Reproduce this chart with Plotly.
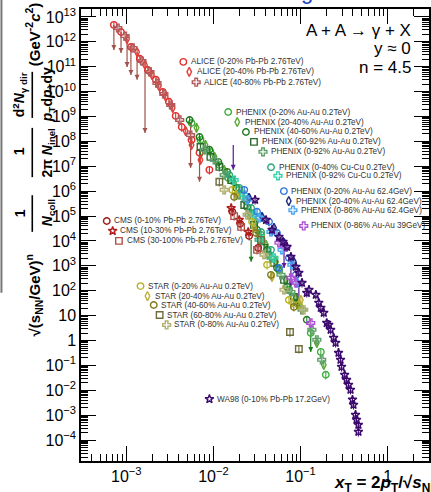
import plotly.graph_objects as go

# ---------------- data (x_T, scaled yield) ----------------
alice_020_x = [7.2e-4, 8.7e-4, 1.13e-3, 1.43e-3, 1.77e-3, 2.19e-3, 2.63e-3, 3.08e-3, 3.69e-3, 4.33e-3, 5.61e-3, 6.93e-3, 9.0e-3]
alice_020_y = [4.8e12, 2.5e12, 6.2e11, 2.1e11, 7.4e10, 3.0e10, 9.7e9, 3.9e9, 1.06e9, 3.8e8, 1.15e8, 3.5e7, 7.2e6]
alice_2040_x = [1.02e-3, 1.33e-3, 1.64e-3, 1.97e-3, 2.37e-3, 2.84e-3, 3.41e-3, 4.80e-3, 5.61e-3, 7.11e-3]
alice_2040_y = [1.3e12, 3.9e11, 1.18e11, 4.7e10, 1.7e10, 6.1e9, 2.2e9, 2.6e8, 7.2e7, 1.8e7]
alice_4080_x = [8.0e-4, 9.7e-4, 1.19e-3, 1.51e-3, 1.87e-3, 2.25e-3, 2.70e-3, 3.24e-3, 4.10e-3, 5.47e-3]
alice_4080_y = [3.6e12, 1.7e12, 5.7e11, 1.7e11, 6.2e10, 2.2e10, 8.1e9, 2.9e9, 7.3e8, 1.8e8]
alice_ul_x = [7.2e-4, 8.7e-4, 1.02e-3, 1.13e-3, 1.33e-3, 1.64e-3, 5.47e-3, 6.93e-3]
alice_ul_top = [4.8e12, 2.5e12, 1.3e12, 6.2e11, 3.9e11, 1.7e11, 5.5e8, 3.5e7]
alice_ul_low = [4.7e11, 3.6e11, 9.8e10, 4.7e10, 3.0e10, 2.2e8, 8.6e6, 2.4e6]

phx_020_x = [5.61e-3, 7.11e-3, 9.24e-3, 1.17e-2, 1.48e-2, 1.98e-2, 2.71e-2, 3.52e-2, 4.35e-2, 5.66e-2, 7.36e-2, 9.57e-2, 0.131, 0.171, 0.195]
phx_020_y = [5.5e8, 1.15e8, 3.8e7, 1.14e7, 3.4e6, 1.13e6, 1.35e5, 1.76e4, 2.8e3, 692, 109, 27, 2.0, 0.35, 0.042]
phx_2040_x = [6.4e-3, 8.1e-3, 1.03e-2, 1.33e-2, 1.73e-2, 2.26e-2, 3.09e-2, 4.02e-2, 5.24e-2, 6.81e-2, 8.85e-2, 0.154, 0.185]
phx_2040_y = [3.5e8, 7.2e7, 2.4e7, 7.2e6, 2.2e6, 4.5e5, 5.9e4, 7.0e3, 1.45e3, 274, 52, 0.81, 0.106]
phx_4060_x = [5.33e-3, 6.93e-3, 9.0e-3, 1.14e-2, 1.44e-2, 1.83e-2, 2.44e-2, 3.17e-2, 4.13e-2, 5.37e-2, 7.0e-2, 9.08e-2, 0.118]
phx_4060_y = [7.3e8, 1.5e8, 4.6e7, 1.5e7, 6.0e6, 1.36e6, 2.3e5, 2.8e4, 4.4e3, 832, 144, 33, 6.8]
phx_6092_x = [7.11e-3, 9.24e-3, 1.17e-2, 1.60e-2, 2.26e-2, 2.93e-2, 3.81e-2, 4.96e-2, 6.47e-2, 8.39e-2]
phx_6092_y = [6.0e7, 2.4e7, 9.5e6, 2.8e6, 2.8e5, 4.5e4, 5.3e3, 1.32e3, 274, 57]
phx_092_x = [7.89e-3, 1.03e-2, 1.33e-2, 1.98e-2, 2.57e-2, 3.34e-2, 4.58e-2, 5.97e-2, 7.76e-2, 0.104, 0.135, 0.154, 0.175]
phx_092_y = [4.6e7, 1.8e7, 4.5e6, 7.1e5, 1.12e5, 1.11e4, 2.1e3, 435, 90, 17.1, 2.7, 1.07, 0.168]
phx_ul_x = [0.131, 2.71e-2, 7.11e-3]
phx_ul_top = [2.0, 1.11e4, 1.15e8]
phx_ul_low = [0.35, 1.45e3, 1.8e7]

cucu_040_x = [1.52e-2, 1.98e-2, 2.71e-2, 3.52e-2, 4.58e-2]
cucu_040_y = [4.5e6, 1.36e6, 2.1e5, 2.3e4, 4.4e3]
cucu_092_x = [1.73e-2, 2.26e-2, 2.93e-2, 3.52e-2, 4.96e-2]
cucu_092_y = [2.8e6, 7.1e5, 1.12e5, 1.11e4, 2.1e3]

au62_020_x = [2.26e-2, 3.17e-2, 4.35e-2, 5.37e-2, 7.36e-2, 8.85e-2, 5.66e-2]
au62_020_y = [1.13e6, 1.5e5, 5.9e4, 2.1e4, 2.1e3, 435, 832]
au62_2040_x = [2.57e-2, 3.62e-2, 4.96e-2, 6.47e-2, 8.39e-2]
au62_2040_y = [5.4e5, 9.3e4, 3.4e4, 8.4e3, 1.45e3]
au62_086_x = [2.44e-2, 3.34e-2, 4.58e-2, 6.14e-2, 7.96e-2, 9.08e-2]
au62_086_y = [4.5e5, 8.5e4, 2.3e4, 4.4e3, 1.1e3, 208]
au39_086_x = [5.66e-2, 6.81e-2, 7.76e-2, 8.85e-2, 0.131]
au39_086_y = [8.4e3, 5.8e3, 330, 208, 5.1]

cms_010_x = [1.65e-2, 2.03e-2, 2.57e-2, 3.26e-2]
cms_010_y = [1.5e5, 4.9e4, 1.6e4, 5.3e3]
cms_1030_x = [1.60e-2, 1.98e-2, 2.51e-2]
cms_1030_y = [2.1e5, 7.0e4, 2.3e4]
cms_30100_x = [1.73e-2, 2.08e-2, 3.17e-2]
cms_30100_y = [1.0e5, 3.7e4, 4.4e3]

star_020_x = [1.65e-2, 2.78e-2, 4.13e-2, 7.36e-2, 9.57e-2]
star_020_y = [1.13e6, 5.9e4, 1.1e3, 43, 27]
star_2040_x = [1.83e-2, 2.93e-2, 4.71e-2, 7.96e-2, 0.101]
star_2040_y = [7.1e5, 3.4e4, 362, 33, 43]
star_4060_x = [1.73e-2, 3.09e-2, 4.58e-2, 8.39e-2]
star_4060_y = [5.9e5, 2.1e4, 435, 22.5]
star_6080_x = [1.17e-2, 3.52e-2, 7.57e-2, 9.57e-2]
star_6080_y = [2.4e6, 1.11e4, 2.2, 0.46]
star_080_x = [1.33e-2, 2.44e-2, 3.81e-2, 6.47e-2, 0.109]
star_080_y = [1.13e6, 1.12e5, 2.8e3, 109, 17.1]

wa98_x = [3.01e-2, 4.02e-2, 4.71e-2, 5.66e-2, 6.3e-2, 7.0e-2, 7.76e-2, 8.85e-2, 9.57e-2, 0.104, 0.118, 0.125,
          0.150, 0.162, 0.171, 0.185, 0.200, 0.211, 0.222, 0.240, 0.253, 0.273, 0.288, 0.296, 0.321,
          0.338, 0.356, 0.375, 0.395, 0.406, 0.428, 0.439, 0.462, 0.462]
wa98_y = [4.5e5, 7.0e4, 2.8e4, 1.46e4, 9.2e3, 5.8e3, 2.3e3, 912, 524, 208, 82, 109,
          69, 33, 20.6, 13, 5.1, 4.3, 2.7, 1.29, 0.81, 0.32, 0.168, 0.088, 0.042,
          0.026, 0.0166, 0.0105, 0.0042, 0.0026, 1.04e-3, 6.5e-4, 4.1e-4, 2.16e-4]
wa98_ul_x = [1.69e-2, 6.47e-2, 7.76e-2, 9.57e-2]
wa98_ul_top = [7.2e7, 7.0e3, 1.45e3, 208]
wa98_ul_low = [7.2e6, 830, 144, 22.5]

x_tickvals = [1e-3, 1e-2, 1e-1, 1]
x_ticktext = ["10<sup>\u22123</sup>", "10<sup>\u22122</sup>", "10<sup>\u22121</sup>", "1"]
y_tickvals = [10.0 ** k for k in range(-4, 14)]
y_ticktext = ["10<sup>\u22124</sup>", "10<sup>\u22123</sup>", "10<sup>\u22122</sup>", "10<sup>\u22121</sup>", "1", "10"] + \
             ["10<sup>%d</sup>" % k for k in range(2, 14)]

# ---------------- styles ----------------
series = [
    ("ALICE (0-20% Pb-Pb 2.76TeV)", alice_020_x, alice_020_y, "circle-open", "#e52b2b", 0.294, 0.883),
    ("ALICE (20-40% Pb-Pb 2.76TeV)", alice_2040_x, alice_2040_y, "diamond-tall-open", "#e0403a", 0.311, 0.861),
    ("ALICE (40-80% Pb-Pb 2.76TeV)", alice_4080_x, alice_4080_y, "cross-open", "#b05a5a", 0.331, 0.838),
    ("PHENIX (0-20% Au-Au 0.2TeV)", phx_020_x, phx_020_y, "circle-open", "#3cb03c", 0.423, 0.772),
    ("PHENIX (20-40% Au-Au 0.2TeV)", phx_2040_x, phx_2040_y, "diamond-tall-open", "#5aa832", 0.449, 0.750),
    ("PHENIX (40-60% Au-Au 0.2TeV)", phx_4060_x, phx_4060_y, "circle-open", "#1f7a1f", 0.474, 0.728),
    ("PHENIX (60-92% Au-Au 0.2TeV)", phx_6092_x, phx_6092_y, "square-open", "#2d6b2d", 0.497, 0.706),
    ("PHENIX (0-92% Au-Au 0.2TeV)", phx_092_x, phx_092_y, "cross-open", "#5f9f6a", 0.523, 0.684),
    ("PHENIX (0-40% Cu-Cu 0.2TeV)", cucu_040_x, cucu_040_y, "circle-open", "#2aa878", 0.546, 0.650),
    ("PHENIX (0-92% Cu-Cu 0.2TeV)", cucu_092_x, cucu_092_y, "cross-open", "#33d0aa", 0.566, 0.631),
    ("PHENIX (0-20% Au-Au 62.4GeV)", au62_020_x, au62_020_y, "circle-open", "#2e78e0", 0.583, 0.597),
    ("PHENIX (20-40% Au-Au 62.4GeV)", au62_2040_x, au62_2040_y, "diamond-tall-open", "#1e2a8c", 0.597, 0.575),
    ("PHENIX (0-86% Au-Au 62.4GeV)", au62_086_x, au62_086_y, "cross-open", "#4aa6f0", 0.609, 0.555),
    ("PHENIX (0-86% Au-Au 39GeV)", au39_086_x, au39_086_y, "cross-open", "#b050d8", 0.640, 0.520),
    ("CMS (0-10% Pb-Pb 2.76TeV)", cms_010_x, cms_010_y, "circle-open", "#a01818", 0.074, 0.531),
    ("CMS (10-30% Pb-Pb 2.76TeV)", cms_1030_x, cms_1030_y, "star-open", "#b01c1c", 0.091, 0.509),
    ("CMS (30-100% Pb-Pb 2.76TeV)", cms_30100_x, cms_30100_y, "square-open", "#b05048", 0.109, 0.487),
    ("STAR (0-20% Au-Au 0.2TeV)", star_020_x, star_020_y, "circle-open", "#b5b020", 0.171, 0.387),
    ("STAR (20-40% Au-Au 0.2TeV)", star_2040_x, star_2040_y, "diamond-tall-open", "#bfae3a", 0.191, 0.365),
    ("STAR (40-60% Au-Au 0.2TeV)", star_4060_x, star_4060_y, "circle-open", "#7f7a18", 0.209, 0.345),
    ("STAR (60-80% Au-Au 0.2TeV)", star_6080_x, star_6080_y, "square-open", "#6e6c3a", 0.226, 0.323),
    ("STAR (0-80% Au-Au 0.2TeV)", star_080_x, star_080_y, "cross-open", "#b0ae70", 0.246, 0.301),
    ("WA98 (0-10% Pb-Pb 17.2GeV)", wa98_x, wa98_y, "star-open", "#3c0a6e", 0.369, 0.137),
]

fig = go.Figure()


def add_ul(xs, tops, lows, color):
    lx, ly = [], []
    for x, t, b in zip(xs, tops, lows):
        lx += [x, x, None]
        ly += [t, b, None]
    fig.add_trace(go.Scatter(x=lx, y=ly, mode="lines", line=dict(color=color, width=1.2),
                             hoverinfo="skip", showlegend=False))
    fig.add_trace(go.Scatter(x=xs, y=lows, mode="markers",
                             marker=dict(symbol="arrow-down", size=5, color=color),
                             hoverinfo="skip", showlegend=False))


add_ul(alice_ul_x, alice_ul_top, alice_ul_low, "#a0524d")
add_ul(phx_ul_x, phx_ul_top, phx_ul_low, "#1f7a1f")
add_ul(wa98_ul_x, wa98_ul_top, wa98_ul_low, "#5a1a9a")

for name, xs, ys, sym, col, lx, ly in series:
    fig.add_trace(go.Scatter(
        x=xs, y=ys, mode="markers", name=name, showlegend=False,
        marker=dict(symbol=sym, size=6.5, color=col, line=dict(color=col, width=1.4)),
        error_y=dict(type="percent", value=35, color=col, thickness=1.1, width=0),
    ))

# legend markers on an overlay [0,1] axis pair
for name, xs, ys, sym, col, lx, ly in series:
    fig.add_trace(go.Scatter(
        x=[lx], y=[ly], xaxis="x2", yaxis="y2", mode="markers", showlegend=False,
        marker=dict(symbol=sym, size=6.5, color=col, line=dict(color=col, width=1.4)),
        hoverinfo="skip"))
    fig.add_annotation(x=lx + 0.016, y=ly, xref="x2", yref="y2", text=name, showarrow=False,
                       xanchor="left", yanchor="middle",
                       font=dict(family="Liberation Sans, Arial", size=8.2, color="#333333"))

minor_vals = [m * 10.0 ** k for k in range(-5, 14) for m in range(2, 10)]

axis_common = dict(type="log", showgrid=False, zeroline=False, showline=True, linecolor="black",
                   linewidth=1.5, mirror="allticks", ticks="inside", tickcolor="black",
                   tickwidth=1.2, ticklen=15,
                   tickfont=dict(family="Liberation Sans, Arial", size=16, color="black"))

fig.update_layout(
    width=431, height=492,
    margin=dict(l=81, r=0, t=9, b=31),
    paper_bgcolor="white", plot_bgcolor="white",
    xaxis=dict(range=[-3.52, 0.475], tickmode="array", tickvals=x_tickvals, ticktext=x_ticktext,
               minor=dict(ticks="inside", ticklen=7, tickvals=minor_vals, tickcolor="black", tickwidth=1),
               **axis_common),
    yaxis=dict(range=[-4.84, 13.32], tickmode="array", tickvals=y_tickvals, ticktext=y_ticktext,
               minor=dict(ticks="inside", ticklen=7, tickvals=minor_vals, tickcolor="black", tickwidth=1),
               **axis_common),
    xaxis2=dict(range=[0, 1], overlaying="x", visible=False, fixedrange=True),
    yaxis2=dict(range=[0, 1], overlaying="y", visible=False, fixedrange=True),
)

# top-right labels
for txt, yy in [("A + A \u2192 \u03b3 + X", 0.952), ("y \u2248 0", 0.912), ("n = 4.5", 0.871)]:
    fig.add_annotation(x=0.954, y=yy, xref="paper", yref="paper", text=txt, showarrow=False,
                       xanchor="right", yanchor="middle",
                       font=dict(family="Liberation Sans, Arial", size=17, color="black"))

# x-axis title (cut at the right edge, as in the source figure)
fig.add_annotation(x=0.72, y=-0.05, xref="paper", yref="paper",
                   text="<b><i>x</i><sub>T</sub> = 2<i>p</i><sub>T</sub>/\u221a<i>s</i><sub>NN</sub></b>",
                   showarrow=False, xanchor="left", yanchor="middle",
                   font=dict(family="Liberation Sans, Arial", size=17, color="black"))

# y-axis title pieces (rotated)
ytitle = [
    ("<b>(GeV<sup>-2</sup><i>c</i><sup>2</sup>)</b>", -0.137, 0.945, 15),
    ("<b>d<sup>2</sup><i>N</i><sub>\u03b3 dir</sub></b>", -0.177, 0.810, 14),
    ("<b><i>p</i><sub>T</sub>d<i>p</i><sub>T</sub>dy</b>", -0.094, 0.810, 14),
    ("<b>1</b>", -0.177, 0.686, 14),
    ("<b>2\u03c0 <i>N</i><sub>inel</sub></b>", -0.094, 0.683, 14),
    ("<b>1</b>", -0.177, 0.549, 14),
    ("<b><i>N</i><sub>coll</sub></b>", -0.094, 0.549, 14),
    ("<b>\u221a(s<sub>NN</sub>/GeV)<sup>n</sup></b>", -0.137, 0.367, 15),
]
for txt, xx, yy, fs in ytitle:
    fig.add_annotation(x=xx, y=yy, xref="paper", yref="paper", text=txt, showarrow=False,
                       textangle=-90, xanchor="center", yanchor="middle",
                       font=dict(family="Liberation Sans, Arial", size=fs, color="black"))
for y0, y1 in [(0.759, 0.861), (0.628, 0.737), (0.507, 0.588)]:
    fig.add_shape(type="line", xref="paper", yref="paper", x0=-0.140, x1=-0.140, y0=y0, y1=y1,
                  line=dict(color="black", width=1.6))

# cropped-frame remnants at the edges
fig.add_shape(type="line", xref="paper", yref="paper", x0=-0.2286, x1=-0.2286, y0=0.372, y1=1.03,
              line=dict(color="#777777", width=2))
fig.add_annotation(x=0.65, y=1.0066, xref="paper", yref="paper", text="g", showarrow=False,
                   xanchor="center", yanchor="bottom",
                   font=dict(family="Liberation Sans, Arial", size=22, color="#2040c0"))

fig.write_html("out.html")
